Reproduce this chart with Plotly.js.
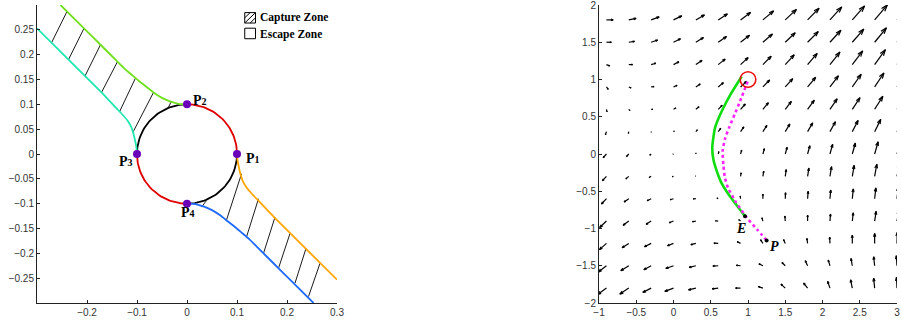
<!DOCTYPE html>
<html>
<head>
<meta charset="utf-8">
<script src="https://cdn.plot.ly/plotly-3.0.1.min.js"></script>
<style>
  html, body { margin: 0; padding: 0; background: #fff; }
  #chart { width: 901px; height: 325px; }
</style>
</head>
<body>
<div id="chart"></div>
<script>
// ---------- Left panel: capture / escape zones around the unit disc ----------
const circleRadius = 0.1;
const pointsX = [0.1, 0, -0.1, 0];
const pointsY = [0, 0.1, 0, -0.1];
const pointNames = ['1', '2', '3', '4'];

// boundary curves leaving the disc
const greenX = [0, -0.017, -0.034, -0.05, -0.067, -0.082, -0.096, -0.11, -0.125, -0.141, -0.174, -0.207, -0.253];
const greenY = [0.1, 0.101, 0.106, 0.113, 0.124, 0.136, 0.147, 0.159, 0.172, 0.188, 0.221, 0.254, 0.3];
const cyanX = [-0.1, -0.1013, -0.104, -0.107, -0.111, -0.118, -0.127, -0.14, -0.155, -0.174, -0.24, -0.3];
const cyanY = [0, 0.014, 0.028, 0.041, 0.053, 0.066, 0.077, 0.091, 0.107, 0.127, 0.193, 0.253];
const orangeX = [0.1, 0.1013, 0.104, 0.107, 0.111, 0.118, 0.127, 0.14, 0.155, 0.174, 0.24, 0.3];
const orangeY = [0, -0.014, -0.028, -0.041, -0.053, -0.066, -0.077, -0.091, -0.107, -0.127, -0.193, -0.253];
const blueX = [0, 0.017, 0.034, 0.05, 0.067, 0.082, 0.096, 0.11, 0.125, 0.141, 0.174, 0.207, 0.253];
const blueY = [-0.1, -0.101, -0.106, -0.113, -0.124, -0.136, -0.147, -0.159, -0.172, -0.188, -0.221, -0.254, -0.3];

// hatch strokes of the capture zone: [x0, y0, x1, y1]
const hatchUpper = [
  [-0.271, 0.224, -0.240, 0.287],
  [-0.237, 0.190, -0.206, 0.253],
  [-0.204, 0.157, -0.173, 0.220],
  [-0.171, 0.124, -0.139, 0.186],
  [-0.135, 0.085, -0.103, 0.153],
  [-0.108, 0.044, -0.067, 0.124],
  [-0.038, 0.0925, -0.031, 0.1065]
];
const hatchLower = [
  [0.029, -0.107, 0.038, -0.095],
  [0.079, -0.133, 0.109, -0.040],
  [0.119, -0.167, 0.143, -0.090],
  [0.153, -0.200, 0.176, -0.127],
  [0.183, -0.230, 0.206, -0.160],
  [0.216, -0.260, 0.238, -0.190],
  [0.243, -0.287, 0.266, -0.220]
];

const leftXTicks = [-0.2, -0.1, 0, 0.1, 0.2, 0.3];
const leftXText = ['\u22120.2', '\u22120.1', '0', '0.1', '0.2', '0.3'];
const leftYTicks = [-0.25, -0.2, -0.15, -0.1, -0.05, 0, 0.05, 0.1, 0.15, 0.2, 0.25];
const leftYText = ['\u22120.25', '\u22120.2', '\u22120.15', '\u22120.1', '\u22120.05', '0', '0.05', '0.1', '0.15', '0.2', '0.25'];

// ---------- Right panel: velocity field with pursuit trajectories ----------
const fieldX = [-0.9, -0.6, -0.3, 0, 0.3, 0.6, 0.9, 1.2, 1.5, 1.8, 2.1, 2.4, 2.7, 3.0];
const fieldY = [1.8, 1.5, 1.2, 0.9, 0.6, 0.3, 0, -0.3, -0.6, -0.9, -1.2, -1.5, -1.8];
const fieldU = [
  [6.7, 7.3, 8.0, 8.3, 8.6, 9.2, 10.0, 10.7, 11.2, 11.5, 11.8, 12.3, 12.7, 13.0],
  [5.0, 5.7, 6.5, 7.0, 7.6, 8.3, 9.0, 9.6, 10.0, 10.7, 11.0, 11.5, 11.8, 12.0],
  [3.3, 3.8, 4.6, 5.4, 6.2, 7.0, 7.6, 8.3, 9.0, 9.6, 10.0, 10.4, 10.8, 11.0],
  [1.8, 2.3, 2.9, 3.6, 4.4, 5.2, 6.0, 6.8, 7.5, 8.1, 8.5, 8.9, 9.3, 9.7],
  [0.6, 1.1, 1.7, 2.4, 3.2, 4.0, 4.8, 5.5, 6.1, 6.7, 7.2, 7.7, 8.2, 8.6],
  [-1.0, -0.4, 0.2, 0.8, 1.6, 2.5, 3.3, 4.0, 4.6, 5.1, 5.5, 5.8, 6.1, 6.4],
  [-3.3, -2.3, -1.4, -0.6, 0.1, 0.7, 1.1, 1.5, 1.9, 2.3, 2.7, 3.1, 3.5, 3.9],
  [-4.0, -3.0, -2.0, -1.3, -0.5, 0.2, 0.6, 0.8, 1.0, 1.3, 1.6, 1.9, 2.2, 2.5],
  [-5.0, -4.7, -4.0, -3.3, -2.5, -1.2, -0.3, 0.0, 0.3, 0.6, 0.8, 1.0, 1.2, 1.3],
  [-6.8, -5.7, -5.0, -4.3, -3.5, -2.8, -1.8, -1.0, -0.4, 0.0, 0.6, 1.0, 1.5, 1.8],
  [-7.0, -6.7, -6.7, -6.0, -5.0, -4.3, -3.3, -2.3, -1.7, -0.7, -0.3, 0.0, 0.0, 0.2],
  [-8.0, -8.0, -7.3, -7.7, -6.7, -5.3, -4.3, -4.0, -3.3, -2.3, -1.7, -1.3, -1.0, -0.7],
  [-9.0, -9.0, -8.3, -8.7, -7.3, -6.0, -5.0, -4.5, -4.3, -4.0, -2.3, -1.7, -1.0, -0.5]
];
const fieldV = [
  [0.0, 1.5, 3.0, 4.0, 5.0, 6.0, 7.5, 9.0, 10.5, 11.7, 13.0, 14.0, 15.0, 15.7],
  [0.0, 0.8, 2.2, 3.5, 4.7, 5.8, 7.0, 8.2, 9.5, 10.7, 12.0, 13.2, 14.5, 15.5],
  [-1.3, 0.0, 1.4, 2.8, 4.2, 5.5, 7.0, 8.4, 9.8, 11.2, 12.5, 13.7, 15.0, 16.0],
  [-2.4, -1.0, 0.3, 1.6, 3.0, 4.3, 5.6, 7.0, 8.3, 9.7, 11.2, 12.7, 14.0, 15.0],
  [-2.5, -1.3, 0.0, 1.3, 2.6, 4.0, 5.3, 6.6, 7.9, 9.2, 10.5, 11.7, 13.0, 14.0],
  [-3.0, -1.8, -0.6, 0.6, 1.8, 3.3, 4.8, 6.2, 7.6, 8.8, 10.0, 11.2, 12.3, 13.2],
  [-3.7, -2.5, -1.3, -0.2, 1.0, 2.3, 3.8, 5.3, 6.8, 8.3, 9.7, 11.0, 12.3, 13.5],
  [-4.3, -2.5, -1.2, -0.3, 0.3, 1.7, 3.5, 5.2, 6.8, 8.3, 9.7, 11.0, 12.2, 13.0],
  [-5.3, -3.3, -2.0, -1.0, -0.2, 0.8, 2.7, 4.4, 6.0, 7.4, 8.7, 9.8, 10.8, 11.6],
  [-6.5, -4.3, -3.3, -1.7, -0.7, 0.3, 1.4, 3.3, 5.0, 5.9, 7.0, 8.3, 9.7, 10.7],
  [-6.2, -4.3, -3.3, -2.3, -1.3, 0.3, 1.7, 3.7, 3.8, 5.0, 6.2, 8.3, 10.0, 11.0],
  [-6.2, -5.0, -4.0, -2.7, -1.7, -0.3, 0.5, 2.0, 3.3, 5.0, 5.7, 7.3, 9.0, 10.0],
  [-6.5, -6.0, -4.3, -3.3, -1.7, -0.7, 0.0, 1.5, 4.0, 5.0, 6.7, 8.3, 10.0, 11.0]
];
const quiverScale = 0.0134;   // field units -> axis units

// evader (solid) and pursuer (dotted) paths
const evaderX = [0.96, 0.85, 0.736, 0.64, 0.58, 0.535, 0.52, 0.535, 0.557, 0.605, 0.669, 0.76, 0.915];
const evaderY = [-0.836, -0.69, -0.537, -0.38, -0.227, -0.07, 0.084, 0.22, 0.351, 0.48, 0.617, 0.79, 1.04];
const pursuerX = [1.25, 1.12, 0.98, 0.826, 0.73, 0.69, 0.67, 0.66, 0.69, 0.745, 0.82, 0.893, 1.004];
const pursuerY = [-1.16, -1.01, -0.85, -0.627, -0.45, -0.316, -0.15, 0.04, 0.2, 0.351, 0.53, 0.707, 0.996];
const captureCenter = [1.0, 1.0];
const captureRadius = 0.105;

const rightXTicks = [-1, -0.5, 0, 0.5, 1, 1.5, 2, 2.5, 3];
const rightXText = ['\u22121', '\u22120.5', '0', '0.5', '1', '1.5', '2', '2.5', '3'];
const rightYTicks = [-2, -1.5, -1, -0.5, 0, 0.5, 1, 1.5, 2];
const rightYText = ['\u22122', '\u22121.5', '\u22121', '\u22120.5', '0', '0.5', '1', '1.5', '2'];

// ---------- helpers ----------
function arcPoints(a0, a1, r) {
  const xs = [], ys = [];
  const n = 40;
  for (let k = 0; k <= n; k++) {
    const t = (a0 + (a1 - a0) * k / n) * Math.PI / 180;
    xs.push(r * Math.cos(t));
    ys.push(r * Math.sin(t));
  }
  return { x: xs, y: ys };
}

function segmentTrace(segs, xa, ya) {
  const xs = [], ys = [];
  segs.forEach(s => { xs.push(s[0], s[2], null); ys.push(s[1], s[3], null); });
  return { x: xs, y: ys, xaxis: xa, yaxis: ya, mode: 'lines', hoverinfo: 'skip',
           line: { color: '#000', width: 0.9 } };
}

// quiver arrows drawn as shaft + two barbs
function quiverTrace() {
  const xs = [], ys = [];
  const a = 0.33, b = 0.33;
  for (let i = 0; i < fieldY.length; i++) {
    for (let j = 0; j < fieldX.length; j++) {
      const x = fieldX[j], y = fieldY[i];
      const u = fieldU[i][j] * quiverScale, v = fieldV[i][j] * quiverScale;
      const tx = x + u, ty = y + v;
      xs.push(x, tx, null);
      ys.push(y, ty, null);
      xs.push(tx - a * (u + b * v), tx, tx - a * (u - b * v), null);
      ys.push(ty - a * (v - b * u), ty, ty - a * (v + b * u), null);
    }
  }
  return { x: xs, y: ys, xaxis: 'x2', yaxis: 'y2', mode: 'lines', hoverinfo: 'skip',
           line: { color: '#000', width: 1.2 } };
}

function curve(x, y, color, w, xa, ya, dash) {
  return { x: x, y: y, xaxis: xa, yaxis: ya, mode: 'lines', hoverinfo: 'skip',
           line: { color: color, width: w, shape: 'spline', smoothing: 0.6, dash: dash || 'solid' } };
}

const arcRed1 = arcPoints(0, 90, circleRadius);
const arcBlack1 = arcPoints(90, 180, circleRadius);
const arcRed2 = arcPoints(180, 270, circleRadius);
const arcBlack2 = arcPoints(270, 360, circleRadius);

const traces = [
  segmentTrace(hatchUpper, 'x', 'y'),
  segmentTrace(hatchLower, 'x', 'y'),
  { x: arcBlack1.x, y: arcBlack1.y, mode: 'lines', line: { color: '#000', width: 1.8 }, hoverinfo: 'skip' },
  { x: arcBlack2.x, y: arcBlack2.y, mode: 'lines', line: { color: '#000', width: 1.8 }, hoverinfo: 'skip' },
  { x: arcRed1.x, y: arcRed1.y, mode: 'lines', line: { color: '#e00000', width: 1.8 }, hoverinfo: 'skip' },
  { x: arcRed2.x, y: arcRed2.y, mode: 'lines', line: { color: '#e00000', width: 1.8 }, hoverinfo: 'skip' },
  curve(greenX, greenY, '#6ee01c', 1.8, 'x', 'y'),
  curve(cyanX, cyanY, '#1ee8b0', 1.8, 'x', 'y'),
  curve(orangeX, orangeY, '#ffa500', 1.8, 'x', 'y'),
  curve(blueX, blueY, '#1f6bff', 1.8, 'x', 'y'),
  { x: pointsX, y: pointsY, mode: 'markers', hoverinfo: 'skip',
    marker: { color: '#6a00b8', size: 8 } },

  quiverTrace(),
  curve(evaderX, evaderY, '#10dd10', 2.6, 'x2', 'y2'),
  curve(pursuerX, pursuerY, '#ff22ff', 2.6, 'x2', 'y2', 'dot'),
  { x: [evaderX[0], pursuerX[0]], y: [evaderY[0], pursuerY[0]], xaxis: 'x2', yaxis: 'y2',
    mode: 'markers', hoverinfo: 'skip', marker: { color: '#000', size: 4 } }
];

// ---------- annotations ----------
const annotations = [];
const labelOffsets = [[0.0135, -0.0095, 'left'], [0.0075, 0.0075, 'left'], [-0.005, -0.0155, 'right'], [-0.0165, -0.0175, 'left']];
pointNames.forEach((t, k) => {
  annotations.push({
    xref: 'x', yref: 'y', x: pointsX[k] + labelOffsets[k][0], y: pointsY[k] + labelOffsets[k][1],
    text: '<b>P<span style="font-size:10px">' + t + '</span></b>', showarrow: false,
    xanchor: labelOffsets[k][2], yanchor: 'middle',
    font: { family: 'Liberation Serif', size: 14, color: '#000' }
  });
});
annotations.push({ xref: 'x', yref: 'y', x: 0.141, y: 0.2747, text: '<b>Capture Zone</b>', showarrow: false,
  xanchor: 'left', yanchor: 'middle', font: { family: 'Liberation Serif', size: 11.5, color: '#000' } });
annotations.push({ xref: 'x', yref: 'y', x: 0.141, y: 0.2415, text: '<b>Escape Zone</b>', showarrow: false,
  xanchor: 'left', yanchor: 'middle', font: { family: 'Liberation Serif', size: 11.5, color: '#000' } });
annotations.push({ xref: 'x2', yref: 'y2', x: 0.9, y: -1.0, text: '<b><i>E</i></b>', showarrow: false,
  xanchor: 'center', yanchor: 'middle', font: { family: 'Liberation Serif', size: 14, color: '#000' } });
annotations.push({ xref: 'x2', yref: 'y2', x: 1.36, y: -1.24, text: '<b><i>P</i></b>', showarrow: false,
  xanchor: 'center', yanchor: 'middle', font: { family: 'Liberation Serif', size: 14, color: '#000' } });

// legend swatches (hatched / empty squares)
const sw = { x0: 0.1155, x1: 0.137, capY0: 0.2637, capY1: 0.2847, escY0: 0.2321, escY1: 0.2533 };
const shapes = [
  { type: 'rect', xref: 'x', yref: 'y', x0: sw.x0, x1: sw.x1, y0: sw.capY0, y1: sw.capY1, line: { color: '#000', width: 1 } },
  { type: 'rect', xref: 'x', yref: 'y', x0: sw.x0, x1: sw.x1, y0: sw.escY0, y1: sw.escY1, line: { color: '#000', width: 1 } },
  { type: 'circle', xref: 'x2', yref: 'y2',
    x0: captureCenter[0] - captureRadius, x1: captureCenter[0] + captureRadius,
    y0: captureCenter[1] - captureRadius, y1: captureCenter[1] + captureRadius,
    line: { color: '#ee1111', width: 1.6 } }
];
const w = sw.x1 - sw.x0, h = sw.capY1 - sw.capY0;
[[0, 0.5, 0.5, 1], [0, 0, 1, 1], [0.5, 0, 1, 0.5]].forEach(f => {
  shapes.push({ type: 'line', xref: 'x', yref: 'y',
    x0: sw.x0 + f[0] * w, y0: sw.capY0 + f[1] * h, x1: sw.x0 + f[2] * w, y1: sw.capY0 + f[3] * h,
    line: { color: '#000', width: 1 } });
});

const axisFont = { family: 'Liberation Sans', size: 10, color: '#333' };
function axis(extra) {
  return Object.assign({
    showgrid: false, zeroline: false, showline: true, linecolor: '#222', linewidth: 1,
    ticks: 'inside', ticklen: 3, tickwidth: 1, tickcolor: '#222', tickmode: 'array',
    tickfont: axisFont, mirror: false, fixedrange: true, ticklabeloverflow: 'allow'
  }, extra);
}

const layout = {
  width: 901, height: 325,
  margin: { l: 0, r: 0, t: 4.5, b: 22 },
  paper_bgcolor: '#fff', plot_bgcolor: '#fff',
  showlegend: false,
  xaxis: axis({ domain: [37 / 901, 337 / 901], range: [-0.3, 0.3], tickvals: leftXTicks, ticktext: leftXText, anchor: 'y' }),
  yaxis: axis({ domain: [0, 1], range: [-0.3, 0.3], tickvals: leftYTicks, ticktext: leftYText, anchor: 'x' }),
  xaxis2: axis({ domain: [599 / 901, 897 / 901], range: [-1, 3], tickvals: rightXTicks, ticktext: rightXText, anchor: 'y2' }),
  yaxis2: axis({ domain: [0, 1], range: [-2, 2], tickvals: rightYTicks, ticktext: rightYText, anchor: 'x2' }),
  annotations: annotations,
  shapes: shapes
};

Plotly.newPlot('chart', traces, layout, { staticPlot: true, displayModeBar: false });
</script>
</body>
</html>
